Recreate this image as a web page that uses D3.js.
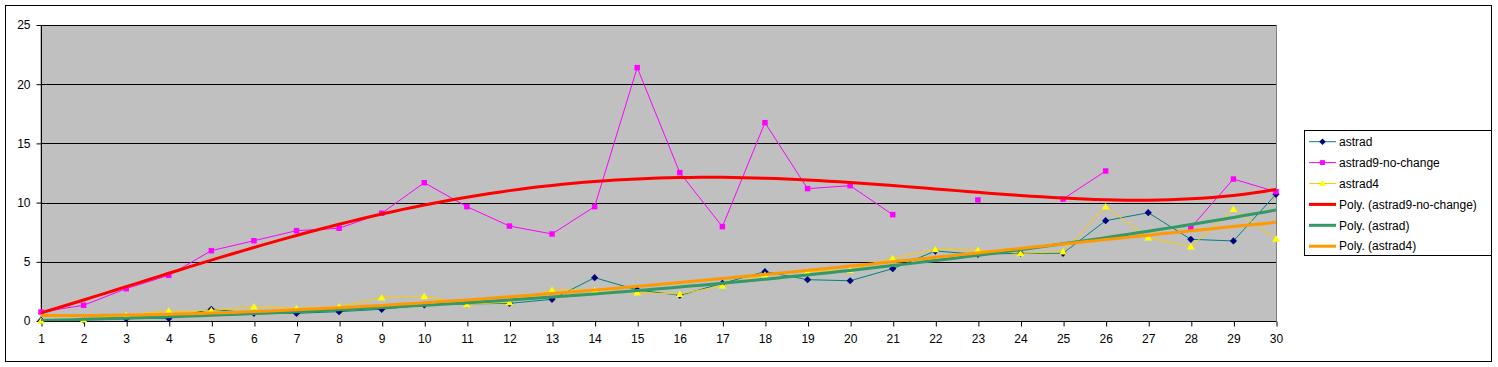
<!DOCTYPE html>
<html><head><meta charset="utf-8">
<script src="https://cdn.jsdelivr.net/npm/d3@7"></script>
<style>
html,body{margin:0;padding:0;background:#fff;}
svg{display:block;font-family:"Liberation Sans",Arial,sans-serif;}
</style></head>
<body><svg id="c" width="1498" height="367"></svg>
<script>
const categories = d3.range(1, 31);
const astrad = [0.05,0.08,0.2,0.22,0.99,0.65,0.65,0.79,0.99,1.35,1.44,1.49,1.83,3.66,2.62,2.17,3.18,4.17,3.49,3.40,4.42,5.91,5.63,5.72,5.72,8.47,9.15,6.90,6.76,10.7];
const astrad9 = [0.76,1.33,2.73,3.86,5.94,6.78,7.63,7.83,9.10,11.68,9.66,8.02,7.35,9.66,21.4,12.53,7.97,16.75,11.18,11.43,8.98,null,10.22,null,10.3,12.67,null,7.88,11.99,10.92];
const astrad4 = [0.02,0.12,0.5,0.87,0.9,1.21,1.07,1.21,1.97,2.11,1.41,1.58,2.62,2.62,2.39,2.28,2.96,3.91,4.17,4.31,5.3,6.05,6.0,5.72,5.86,9.66,7.04,6.28,9.46,6.95];
const yTicks = [0,5,10,15,20,25];
const legendLabels = ["astrad","astrad9-no-change","astrad4","Poly. (astrad9-no-change)","Poly. (astrad)","Poly. (astrad4)"];

const svg = d3.select("#c");
const L=41,R=1276,T=25,B=321;
const x = d3.scaleLinear().domain([1,30]).range([L,R]);
const y = d3.scaleLinear().domain([0,25]).range([B,T]);

svg.append("rect").attr("x",5.5).attr("y",5.5).attr("width",1486).attr("height",356).attr("fill","#fff").attr("stroke","#000");
svg.append("rect").attr("x",L).attr("y",T+0.5).attr("width",R-L+0.5).attr("height",B-T).attr("fill","#C0C0C0").attr("stroke","#808080");
svg.append("g").selectAll("line").data(yTicks.filter(d=>d>0)).join("line")
  .attr("x1",L).attr("x2",R).attr("y1",d=>Math.round(y(d))+0.5).attr("y2",d=>Math.round(y(d))+0.5).attr("stroke","#000");

const yAxis = d3.axisLeft(y).tickValues(yTicks).tickSize(5).tickPadding(6).tickFormat(d3.format("d"));
const gy = svg.append("g").attr("transform",`translate(${L+0.5},0)`).call(yAxis);
const xAxis = d3.axisBottom(x).tickValues(categories).tickSize(5).tickPadding(8).tickFormat(d3.format("d"));
const gx = svg.append("g").attr("transform",`translate(0,${B+0.5})`).call(xAxis);
[gx,gy].forEach(g=>{
  g.select(".domain").attr("stroke","#000");
  g.selectAll(".tick line").attr("stroke","#000");
  g.selectAll(".tick text").attr("fill","#000").attr("font-size","12px").attr("font-family","Liberation Sans, Arial, sans-serif");
});
gx.select(".domain").attr("d",`M${L},0H${R}`);
gy.select(".domain").attr("d",`M0,${T}V${B}`);
gx.selectAll(".tick line").attr("transform","translate(0.5,0)");

function polyfit(xs, ys, order){
  const pts = xs.map((xv,i)=>[xv,ys[i]]).filter(p=>p[1]!=null);
  const n=order+1;
  const A=Array.from({length:n},()=>Array(n+1).fill(0));
  pts.forEach(([xv,yv])=>{
    for(let i=0;i<n;i++){
      for(let j=0;j<n;j++) A[i][j]+=Math.pow(xv,i+j);
      A[i][n]+=yv*Math.pow(xv,i);
    }
  });
  for(let i=0;i<n;i++){
    let m=i; for(let k=i+1;k<n;k++) if(Math.abs(A[k][i])>Math.abs(A[m][i])) m=k;
    [A[i],A[m]]=[A[m],A[i]];
    for(let k=i+1;k<n;k++){const f=A[k][i]/A[i][i]; for(let j=i;j<=n;j++) A[k][j]-=f*A[i][j];}
  }
  const c=Array(n).fill(0);
  for(let i=n-1;i>=0;i--){let s=A[i][n]; for(let j=i+1;j<n;j++) s-=A[i][j]*c[j]; c[i]=s/A[i][i];}
  return xv=>c.reduce((s,ci,i)=>s+ci*Math.pow(xv,i),0);
}

const diamond = {draw(ctx,size){const r=Math.sqrt(size/2);ctx.moveTo(0,-r);ctx.lineTo(r,0);ctx.lineTo(0,r);ctx.lineTo(-r,0);ctx.closePath();}};
const tri = {draw(ctx,size){const h=Math.sqrt(size);ctx.moveTo(0,-h*0.55);ctx.lineTo(h*0.6,h*0.45);ctx.lineTo(-h*0.6,h*0.45);ctx.closePath();}};

const series = [
  {name:"astrad", data:astrad, line:"#008080", fill:"#000080", shape:diamond, size:26},
  {name:"astrad9", data:astrad9, line:"#FF00FF", fill:"#FF00FF", shape:d3.symbolSquare, size:30},
  {name:"astrad4", data:astrad4, line:"#FFCC00", fill:"#FFFF00", shape:tri, size:42}
];
const trends = [
  {data:astrad9, color:"#FF0000", order:4},
  {data:astrad, color:"#339966", order:3},
  {data:astrad4, color:"#FF9900", order:3}
];

svg.append("clipPath").attr("id","pc").append("rect").attr("x",L).attr("y",T).attr("width",R-L).attr("height",B-T);

const line = d3.line().defined(d=>d[1]!=null).x(d=>x(d[0])).y(d=>y(d[1]));
series.forEach(s=>{
  svg.append("path").datum(categories.map((c,i)=>[c,s.data[i]]))
    .attr("d",line).attr("fill","none").attr("stroke",s.line).attr("stroke-width",1);
  svg.append("g").selectAll("path").data(categories.map((c,i)=>[c,s.data[i]]).filter(d=>d[1]!=null)).join("path")
    .attr("transform",d=>`translate(${x(d[0])},${y(d[1])})`)
    .attr("d",d3.symbol(s.shape,s.size)).attr("fill",s.fill);
});
const fine = d3.range(1,30.001,0.25);
trends.forEach(t=>{
  const f = polyfit(categories,t.data,t.order);
  svg.append("path").datum(fine.map(v=>[v,f(v)]))
    .attr("d",d3.line().x(d=>x(d[0])).y(d=>y(d[1])))
    .attr("fill","none").attr("stroke",t.color).attr("stroke-width",3).attr("clip-path","url(#pc)");
});

const lg = svg.append("g");
lg.append("rect").attr("x",1304.5).attr("y",130.5).attr("width",187).attr("height",125).attr("fill","#fff").attr("stroke","#000");
const ly0=141.7, lstep=20.9;
legendLabels.forEach((lab,i)=>{
  const yy = ly0+i*lstep;
  let col, w=1, sym=null;
  if(i<3){col=series[i].line; sym=series[i];}
  else {col=trends[i-3].color; w=3;}
  lg.append("line").attr("x1",1309).attr("x2",1336).attr("y1",yy).attr("y2",yy).attr("stroke",col).attr("stroke-width",w);
  if(sym) lg.append("path").attr("transform",`translate(1322.5,${yy})`).attr("d",d3.symbol(sym.shape,sym.size*0.8)).attr("fill",sym.fill);
  lg.append("text").attr("x",1339).attr("y",yy).attr("dy","0.35em").attr("font-size","12px").attr("fill","#000").text(lab);
});
</script></body></html>
